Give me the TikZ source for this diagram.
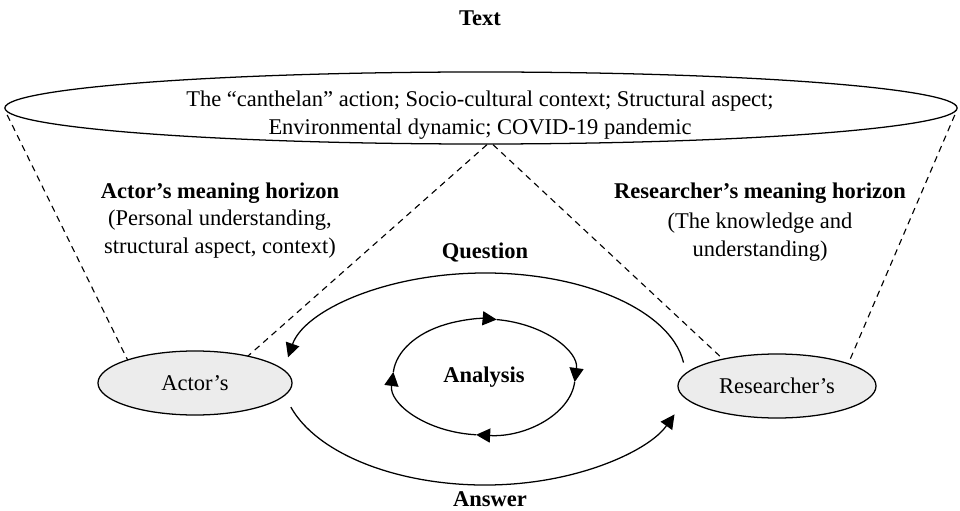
\documentclass[tikz,border=0pt]{standalone}
\usepackage{fontspec}
\setmainfont{Liberation Serif}
\usetikzlibrary{arrows.meta,shapes.geometric,calc}
\definecolor{ovalgray}{RGB}{236,236,236}

\begin{document}
\begin{tikzpicture}[x=0.025cm,y=0.025cm,line width=0.9pt,
  >={Triangle[length=10pt,width=10pt]},
  every node/.style={font=\fontsize{16}{19.8}\selectfont,align=center,inner sep=0pt},
  oval/.style={draw,ellipse,fill=ovalgray},
  horizon/.style={dash pattern=on 4.5pt off 3.5pt,line width=0.8pt}]
\useasboundingbox (0,0) rectangle (960,-511);
\node (title) at (480,-18) {\textbf{Text}};
\node[draw,ellipse,minimum width=23.8cm,minimum height=1.8cm] (txt) at (481,-108) {};
\node (txtlbl) at (480,-115) {The “canthelan” action; Socio-cultural context; Structural aspect;\\Environmental dynamic; COVID-19 pandemic};
\node[oval,minimum width=4.85cm,minimum height=1.6cm] (act) at (195,-383) {Actor’s};
\node[oval,minimum width=4.95cm,minimum height=1.6cm] (res) at (777,-386) {Researcher’s};
\node (acthor) at (220,-193) {\textbf{Actor’s meaning horizon}};
\node (actdesc) at (220,-234) {(Personal understanding,\\structural aspect, context)};
\node (reshor) at (760,-193) {\textbf{Researcher’s meaning horizon}};
\node (resdesc) at (760,-237) {(The knowledge and\\understanding)};
\node (quest) at (485,-253) {\textbf{Question}};
\node (answ) at (490,-499) {\textbf{Answer}};
\node (ana) at (484,-377) {\textbf{Analysis}};
\draw[horizon] ($(txt.west)+(3,-7)$) -- ($(act)+(134:97 and 32)$);
\draw[horizon] ($(txt.south)+(6,0)$) -- ($(act)+(57:97 and 32)$);
\draw[horizon] ($(txt.south)+(12,0)$) -- ($(res)+(123:99 and 32)$);
\draw[horizon] ($(txt.east)+(-3,-7)$) -- ($(res)+(44:99 and 32)$);
\coordinate (loop) at (485,-375);
\draw[->] ($(loop)+(7:200 and 102)$) arc[start angle=7,end angle=170,x radius=200,y radius=102];
\draw[->] ($(loop)+(197:203 and 110)$) arc[start angle=197,end angle=339,x radius=203,y radius=110];
\foreach \a/\b in {175/82,82/-5,-5/-95,-95/-185}
  \draw[->] ($(ana)+(\a:91 and 58)$) arc[start angle=\a,end angle=\b,x radius=91,y radius=58];
\end{tikzpicture}
\end{document}
